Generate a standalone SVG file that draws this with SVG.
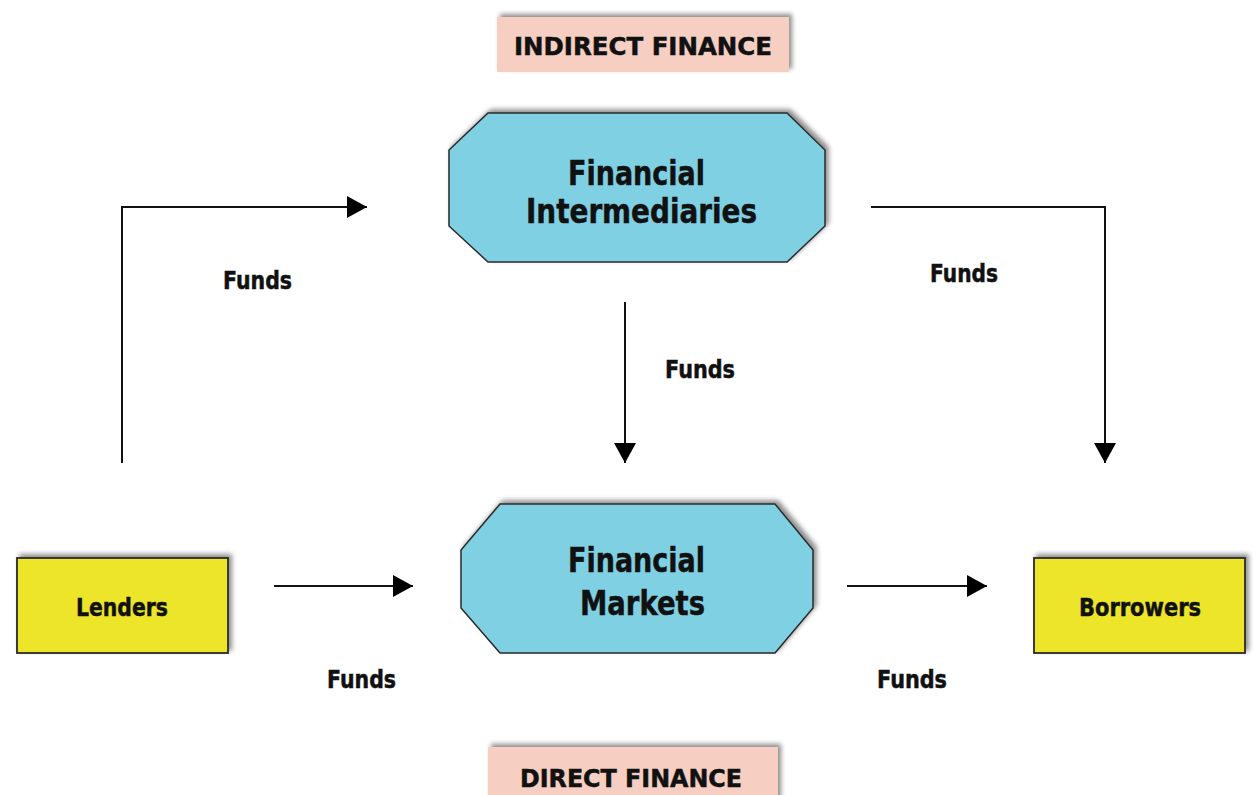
<svg xmlns="http://www.w3.org/2000/svg" width="1256" height="795" viewBox="0 0 1256 795">
<style>
  .lbl { font-family: "DejaVu Sans", "Liberation Sans", sans-serif; font-weight: bold; fill: #111; stroke: #111; stroke-width: 0.5; }
  .big { font-size: 34px; }
  .mid { font-size: 25px; }
  .sm { font-size: 24px; }
  .pink { fill: #F7CFC2; }
  .cyan { fill: #80D0E3; stroke: #2a2a2a; stroke-width: 1.5; }
  .yel { fill: #ECE52B; stroke: #2a2a2a; stroke-width: 1.8; }
  .conn { fill: none; stroke: #111; stroke-width: 2; }
</style>
<defs>
  <filter id="sh" x="-10%" y="-20%" width="120%" height="140%">
    <feGaussianBlur in="SourceAlpha" stdDeviation="2.5"/>
    <feOffset dx="3" dy="-3" result="b"/>
    <feComponentTransfer><feFuncA type="linear" slope="0.45"/></feComponentTransfer>
    <feMerge><feMergeNode/><feMergeNode in="SourceGraphic"/></feMerge>
  </filter>
  <marker id="ah" markerUnits="userSpaceOnUse" markerWidth="22" markerHeight="24" refX="20" refY="11" orient="auto">
    <path d="M0,0 L20,11 L0,22 z" fill="#000"/>
  </marker>
</defs>
<rect width="1256" height="795" fill="#fff"/>

<g id="indirect-finance">
  <rect class="pink" x="497" y="17" width="292" height="55" filter="url(#sh)"/>
  <text class="lbl sm" x="514" y="55" textLength="258" lengthAdjust="spacingAndGlyphs">INDIRECT FINANCE</text>
</g>

<g id="financial-intermediaries">
  <polygon class="cyan" points="488,113 787,113 825,150 825,226 787,262 488,262 449,226 449,150" filter="url(#sh)"/>
  <text class="lbl big" x="568" y="185" textLength="137" lengthAdjust="spacingAndGlyphs">Financial</text>
  <text class="lbl big" x="526" y="223" textLength="231" lengthAdjust="spacingAndGlyphs">Intermediaries</text>
</g>

<g id="financial-markets">
  <polygon class="cyan" points="500,504 775,504 813,550 813,608 775,653 500,653 461,608 461,550" filter="url(#sh)"/>
  <text class="lbl big" x="568" y="572" textLength="137" lengthAdjust="spacingAndGlyphs">Financial</text>
  <text class="lbl big" x="580" y="615" textLength="125" lengthAdjust="spacingAndGlyphs">Markets</text>
</g>

<g id="lenders">
  <rect class="yel" x="17" y="558" width="211" height="95" filter="url(#sh)"/>
  <text class="lbl mid" x="76" y="616" textLength="92" lengthAdjust="spacingAndGlyphs">Lenders</text>
</g>

<g id="borrowers">
  <rect class="yel" x="1034" y="558" width="211" height="95" filter="url(#sh)"/>
  <text class="lbl mid" x="1079" y="616" textLength="122" lengthAdjust="spacingAndGlyphs">Borrowers</text>
</g>

<g id="direct-finance">
  <rect class="pink" x="488" y="747" width="290" height="60" filter="url(#sh)"/>
  <text class="lbl sm" x="520" y="787" textLength="222" lengthAdjust="spacingAndGlyphs">DIRECT FINANCE</text>
</g>

<g id="connectors">
  <path class="conn" d="M122,463 L122,207 L367,207" marker-end="url(#ah)"/>
  <path class="conn" d="M871,207 L1105,207 L1105,463" marker-end="url(#ah)"/>
  <path class="conn" d="M625,302 L625,463" marker-end="url(#ah)"/>
  <path class="conn" d="M274,586 L413,586" marker-end="url(#ah)"/>
  <path class="conn" d="M847,586 L987,586" marker-end="url(#ah)"/>
  <text class="lbl sm" x="223" y="289" textLength="69" lengthAdjust="spacingAndGlyphs">Funds</text>
  <text class="lbl sm" x="930" y="282" textLength="68" lengthAdjust="spacingAndGlyphs">Funds</text>
  <text class="lbl sm" x="665" y="378" textLength="70" lengthAdjust="spacingAndGlyphs">Funds</text>
  <text class="lbl sm" x="327" y="688" textLength="69" lengthAdjust="spacingAndGlyphs">Funds</text>
  <text class="lbl sm" x="877" y="688" textLength="70" lengthAdjust="spacingAndGlyphs">Funds</text>
</g>
</svg>
